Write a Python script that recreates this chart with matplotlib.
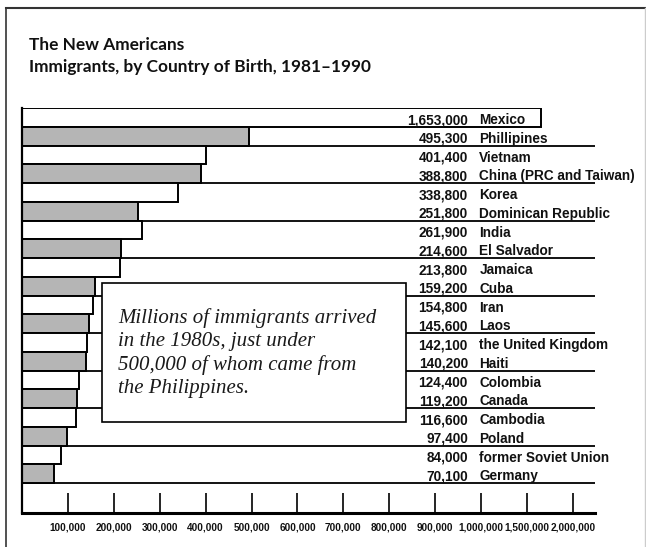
import numpy as np
import matplotlib
matplotlib.use("Agg")
import matplotlib.pyplot as plt
from matplotlib.patches import Rectangle
from matplotlib.lines import Line2D

# --------------------------------------------------------
# Data
# --------------------------------------------------------

countries = [
    "Mexico",
    "Phillipines",
    "Vietnam",
    "China (PRC and Taiwan)",
    "Korea",
    "Dominican Republic",
    "India",
    "El Salvador",
    "Jamaica",
    "Cuba",
    "Iran",
    "Laos",
    "the United Kingdom",
    "Haiti",
    "Colombia",
    "Canada",
    "Cambodia",
    "Poland",
    "former Soviet Union",
    "Germany",
]

immigrants = [
    1653000, 495300, 401400, 388800, 338800,
    251800, 261900, 214600, 213800, 159200,
    154800, 145600, 142100, 140200, 124400,
    119200, 116600, 97400, 84000, 70100,
]

tick_values = [
    100000, 200000, 300000, 400000, 500000,
    600000, 700000, 800000, 900000, 1000000,
    1500000, 2000000,
]

note = ("Millions of immigrants arrived\n"
        "in the 1980s, just under\n"
        "500,000 of whom came from\n"
        "the Philippines.")

# --------------------------------------------------------
# Style
# --------------------------------------------------------

LABEL_FONT = ["Liberation Sans", "DejaVu Sans"]
TITLE_FONT = ["Lato", "DejaVu Sans"]
NOTE_FONT = ["Liberation Serif", "DejaVu Serif"]
GRAY = "#b5b5b5"
INK = "#111111"

# linear up to one million, then compressed 5x
BREAK = 1_000_000
SQUEEZE = 5.0


def forward(x):
    x = np.asarray(x, dtype=float)
    return np.where(x <= BREAK, x, BREAK + (x - BREAK) / SQUEEZE)


def inverse(x):
    x = np.asarray(x, dtype=float)
    return np.where(x <= BREAK, x, BREAK + (x - BREAK) * SQUEEZE)


W, H = 646, 547
fig = plt.figure(figsize=(W / 100, H / 100), dpi=100)

left, right, top, bottom = 22, 595, 108, 513
ax = fig.add_axes([left / W, 1 - bottom / H, (right - left) / W, (bottom - top) / H])

ax.set_xscale("function", functions=(forward, inverse))
ax.set_xlim(0, 2.24e6)

n = len(countries)
rows = np.arange(n)
ax.set_ylim(n - 0.5 + 1.6, -0.5)

colors = ["white" if i % 2 == 0 else GRAY for i in rows]

# rule under every shaded row, running out under the labels
for i in rows:
    if i % 2 == 1:
        ax.axhline(i + 0.5, color="black", lw=1.3, zorder=1)

ax.barh(rows, immigrants, height=1.0, color=colors,
        edgecolor="black", linewidth=1.4, zorder=2)

# value + country labels
trans = ax.get_yaxis_transform()
for i, (name, val) in enumerate(zip(countries, immigrants)):
    ax.text(0.778, i + 0.36, f"{val:,}", transform=trans, ha="right",
            va="baseline", fontsize=9.8, fontweight="bold",
            family=LABEL_FONT, color=INK, zorder=4)
    ax.text(0.798, i + 0.36, name, transform=trans, ha="left",
            va="baseline", fontsize=9.8, fontweight="bold",
            family=LABEL_FONT, color=INK, zorder=4)

# note box
bx0 = (102 - left) / (right - left)
bx1 = (406 - left) / (right - left)
by0 = (bottom - 422) / (bottom - top)
by1 = (bottom - 283) / (bottom - top)
ax.add_patch(Rectangle((bx0, by0), bx1 - bx0, by1 - by0, transform=ax.transAxes,
                       facecolor="white", edgecolor="black", lw=1.2, zorder=3))
ax.text((118 - left) / (right - left), (bottom - 308) / (bottom - top), note,
        transform=ax.transAxes, ha="left", va="top", fontsize=15,
        style="italic", family=NOTE_FONT, linespacing=1.28,
        color="#1a1a1a", zorder=4)

# axes
for side in ["top", "right"]:
    ax.spines[side].set_visible(False)
ax.spines["left"].set_linewidth(1.6)
ax.spines["bottom"].set_linewidth(2.2)

ax.set_xticks(tick_values)
ax.set_xticklabels([f"{t:,}" for t in tick_values], family=LABEL_FONT,
                   fontweight="bold", fontsize=7.2)
ax.xaxis.set_minor_locator(matplotlib.ticker.NullLocator())
ax.tick_params(axis="x", direction="in", length=14.4, width=1.2, pad=7,
               labelcolor=INK)
ax.set_yticks([])

# titles
fig.text(29 / W, 1 - 50 / H, "The New Americans", ha="left", va="baseline",
         fontsize=12.4, fontweight="bold", family=TITLE_FONT, color=INK)
fig.text(29 / W, 1 - 72 / H, "Immigrants, by Country of Birth, 1981\u20131990",
         ha="left", va="baseline", fontsize=12.4, fontweight="bold",
         family=TITLE_FONT, color=INK)

# page frame
fig.add_artist(Line2D([6 / W, 6 / W], [0, 1 - 8 / H], transform=fig.transFigure,
                      color="#333333", lw=1.2))
fig.add_artist(Line2D([6 / W, 1], [1 - 8 / H, 1 - 8 / H], transform=fig.transFigure,
                      color="#333333", lw=1.5))
fig.add_artist(Line2D([645 / W, 645 / W], [0, 1 - 8 / H], transform=fig.transFigure,
                      color="#cccccc", lw=1.0))

fig.savefig("out.png", dpi=100)
